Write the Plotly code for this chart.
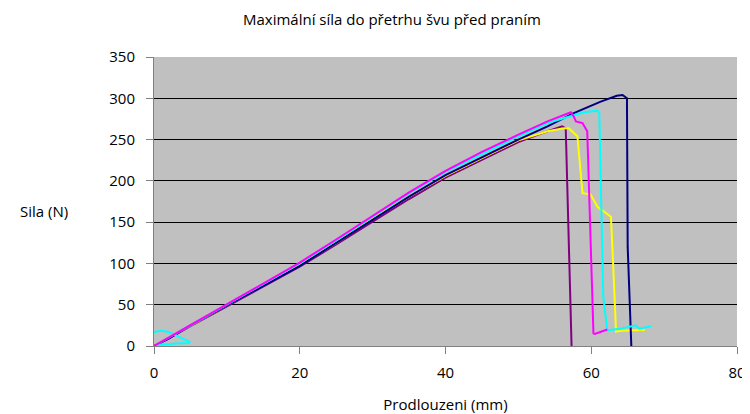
import plotly.graph_objects as go

# Series data (x: elongation mm, y: force N)
purple_x = [0, 2, 5, 10, 15, 20, 25, 30, 35, 40, 45, 50, 53, 56, 56.5, 56.7, 57.3]
purple_y = [0, 9, 24, 48, 72, 96, 123, 151, 178, 204, 226, 247, 257, 266, 263.6, 201, 0]

navy_x = [0, 2, 5, 10, 15, 20, 25, 30, 35, 40, 45, 50, 54, 57.6, 61.3, 63.5, 64.3, 64.9, 65.0, 65.5]
navy_y = [0, 9, 25, 49, 73, 97, 125, 153, 181, 207, 229, 250, 266, 282, 296, 303, 304, 300, 120, 0]

yellow_x = [0, 5, 10, 15, 20, 25, 30, 35, 40, 45, 50, 54, 56.3, 56.9, 58.1, 58.8, 59.9, 60.85, 62.7, 62.9, 63.4, 64.05, 67.35]
yellow_y = [0, 25, 49, 74, 98, 125, 154, 181, 206, 228, 249, 260, 263.6, 263.6, 254, 185, 183.7, 168.7, 156.6, 120, 17.4, 18.5, 19.4]

magenta_x = [0, 2, 5, 10, 15, 20, 25, 30, 35, 40, 45, 50, 54, 57.2, 57.6, 57.9, 58.8, 59.45, 59.7, 60.3, 60.5, 62.2]
magenta_y = [0, 10, 26, 51, 76, 101, 129, 158, 186, 212, 235, 256, 272, 283, 278, 272, 270, 260, 189, 15.4, 14.5, 20]

cyan_x = [0, 1, 2, 3, 4.2, 4.9, 4.8, 3, 0.2, 2, 5, 10, 15, 20, 25, 30, 35, 40, 45, 50, 54, 57.6, 59, 60.85, 61.1, 61.65, 62.2, 64, 66.1, 66.6, 68.2]
cyan_y = [17, 18.5, 17, 13, 8, 5, 3.5, 3, 1, 10, 25, 50, 75, 100, 128, 157, 185, 211, 233, 254, 270, 280, 283, 285, 282, 60, 19, 21, 25, 21, 24]

x_ticks = [0, 20, 40, 60, 80]
y_ticks = [0, 50, 100, 150, 200, 250, 300, 350]

FONT = "Open Sans, Noto Sans, sans-serif"

fig = go.Figure()
series = [
    (purple_x, purple_y, "#800080"),
    (yellow_x, yellow_y, "#FFFF00"),
    (navy_x, navy_y, "#000080"),
    (cyan_x, cyan_y, "#00FFFF"),
    (magenta_x, magenta_y, "#FF00FF"),
]
for xs, ys, col in series:
    fig.add_trace(go.Scatter(x=xs, y=ys, mode="lines",
                             line=dict(color=col, width=2),
                             showlegend=False, hoverinfo="skip"))

fig.update_layout(
    width=742, height=406,
    margin=dict(l=146, r=13, t=49, b=68),
    paper_bgcolor="white",
    plot_bgcolor="#C0C0C0",
    font=dict(family=FONT, size=15, color="#000000"),
    title=dict(text="Maximální síla do přetrhu švu před praním",
               x=0.5175, xanchor="center", y=0.970, yanchor="middle",
               font=dict(family=FONT, size=15, color="#000000")),
    xaxis=dict(range=[0, 80], tickvals=x_ticks, showgrid=False, automargin=False,
               zeroline=False, showline=True, linecolor="#808080", linewidth=1,
               ticks="outside", ticklen=7, tickcolor="#808080",
               ticklabelstandoff=6,
               tickfont=dict(size=15),
               title=dict(text="Prodlouzeni (mm)", font=dict(size=15), standoff=20)),
    yaxis=dict(range=[0, 350], tickvals=y_ticks, showgrid=True, automargin=False,
               gridcolor="#000000", gridwidth=1,
               zeroline=False, showline=True, linecolor="#808080", linewidth=1,
               ticks="outside", ticklen=7, tickcolor="#808080",
               ticklabelstandoff=8,
               tickfont=dict(size=15)),
    annotations=[dict(text="Sila (N)", xref="paper", yref="paper",
                      x=-0.144, y=0.467, xanchor="right", yanchor="middle",
                      showarrow=False, font=dict(size=15, family=FONT))],
)

fig.write_html("out.html")
